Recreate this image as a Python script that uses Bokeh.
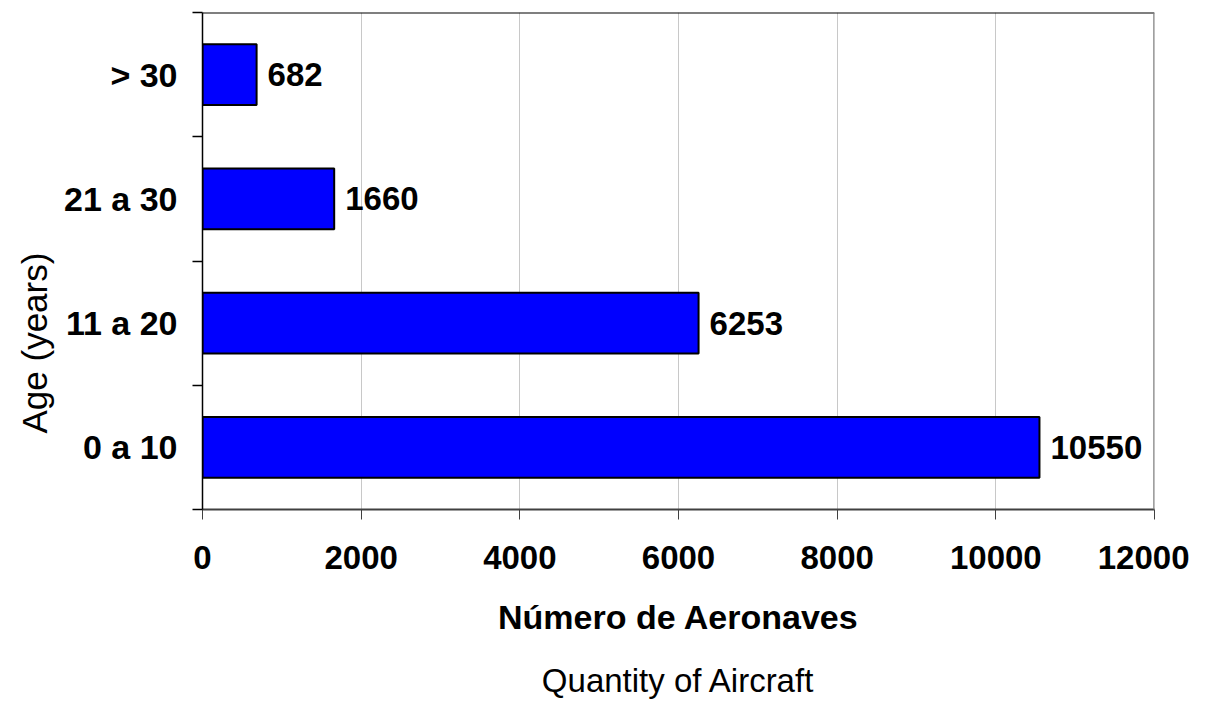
from bokeh.plotting import figure
from bokeh.models import (Range1d, FixedTicker, NumeralTickFormatter, ColumnDataSource,
                          Span, Title)
from bokeh.core.properties import value
from bokeh.embed import file_html
from bokeh.resources import INLINE

# ---- data ----
categories = ["0 a 10", "11 a 20", "21 a 30", "> 30"]
counts = [10550, 6253, 1660, 682]
x_ticks = [0, 2000, 4000, 6000, 8000, 10000, 12000]
x_title = "Número de Aeronaves"
y_title = "Age (years)"
sub_title = "Quantity of Aircraft"

FONT = "Liberation Sans"

ypos = [i + 0.5 for i in range(len(categories))]
src = ColumnDataSource(dict(y=ypos, v=counts, lab=[str(c) for c in counts]))

p = figure(width=1189, height=702, output_backend="svg", toolbar_location=None,
           x_range=Range1d(0, 12000), y_range=Range1d(0, len(categories)),
           frame_width=952, frame_height=497,
           min_border_left=202, min_border_right=35, min_border_top=12, min_border_bottom=193)
p.outline_line_color = None
p.background_fill_color = "white"

p.hbar(y="y", right="v", left=0, height=0.49, source=src,
       fill_color="#0000FF", line_color="black", line_width=2)
p.text(x="v", y="y", text="lab", source=src, x_offset=11,
       text_align="left", text_baseline="middle",
       text_font=value(FONT), text_font_size="33px", text_font_style="bold",
       text_color="black")

# x axis
xa = p.xaxis[0]
xa.ticker = FixedTicker(ticks=x_ticks)
xa.formatter = NumeralTickFormatter(format="0")
xa.axis_line_color = "#404040"
xa.axis_line_width = 2
xa.major_tick_in = 0
xa.major_tick_out = 10
xa.major_tick_line_color = "#404040"
xa.minor_tick_line_color = None
xa.major_label_text_font = FONT
xa.major_label_text_font_size = "33px"
xa.major_label_text_font_style = "bold"
xa.major_label_text_color = "black"
xa.major_label_standoff = 26
xa.axis_label = x_title
xa.axis_label_text_font = FONT
xa.axis_label_text_font_size = "34px"
xa.axis_label_text_font_style = "bold"
xa.axis_label_text_color = "black"
xa.axis_label_standoff = 26

# y axis (category labels, boundary ticks)
ya = p.yaxis[0]
ya.ticker = FixedTicker(ticks=ypos, minor_ticks=list(range(len(categories) + 1)))
ya.major_label_overrides = {y: c for y, c in zip(ypos, categories)}
ya.axis_line_color = "black"
ya.axis_line_width = 1.5
ya.major_tick_line_color = None
ya.major_tick_out = 0
ya.major_tick_in = 0
ya.minor_tick_out = 10
ya.minor_tick_in = 0
ya.minor_tick_line_color = "black"
ya.minor_tick_line_width = 1.5
ya.major_label_text_font = FONT
ya.major_label_text_font_size = "34px"
ya.major_label_text_font_style = "bold"
ya.major_label_text_color = "black"
ya.major_label_standoff = 15

# y title: a vertical title on the left, placed low like the original
ty = Title(text=y_title, align="left", offset=76, text_font=FONT, text_font_size="35px",
           text_font_style="normal", text_color="black", standoff=16)
p.add_layout(ty, "left")

# grid
p.ygrid.grid_line_color = None
p.xgrid.ticker = FixedTicker(ticks=x_ticks)
p.xgrid.grid_line_color = "#c8c8c8"
p.xgrid.grid_line_width = 1

# frame borders (top black, right gray)
p.add_layout(Span(location=len(categories), dimension="width", line_color="black", line_width=2))
p.add_layout(Span(location=x_ticks[-1], dimension="height", line_color="#808080", line_width=2.5))

t = Title(text=sub_title, align="center", text_font=FONT, text_font_size="33px",
          text_font_style="normal", text_color="black", standoff=42)
p.add_layout(t, "below")

open("out.html", "w").write(file_html(p, INLINE))
